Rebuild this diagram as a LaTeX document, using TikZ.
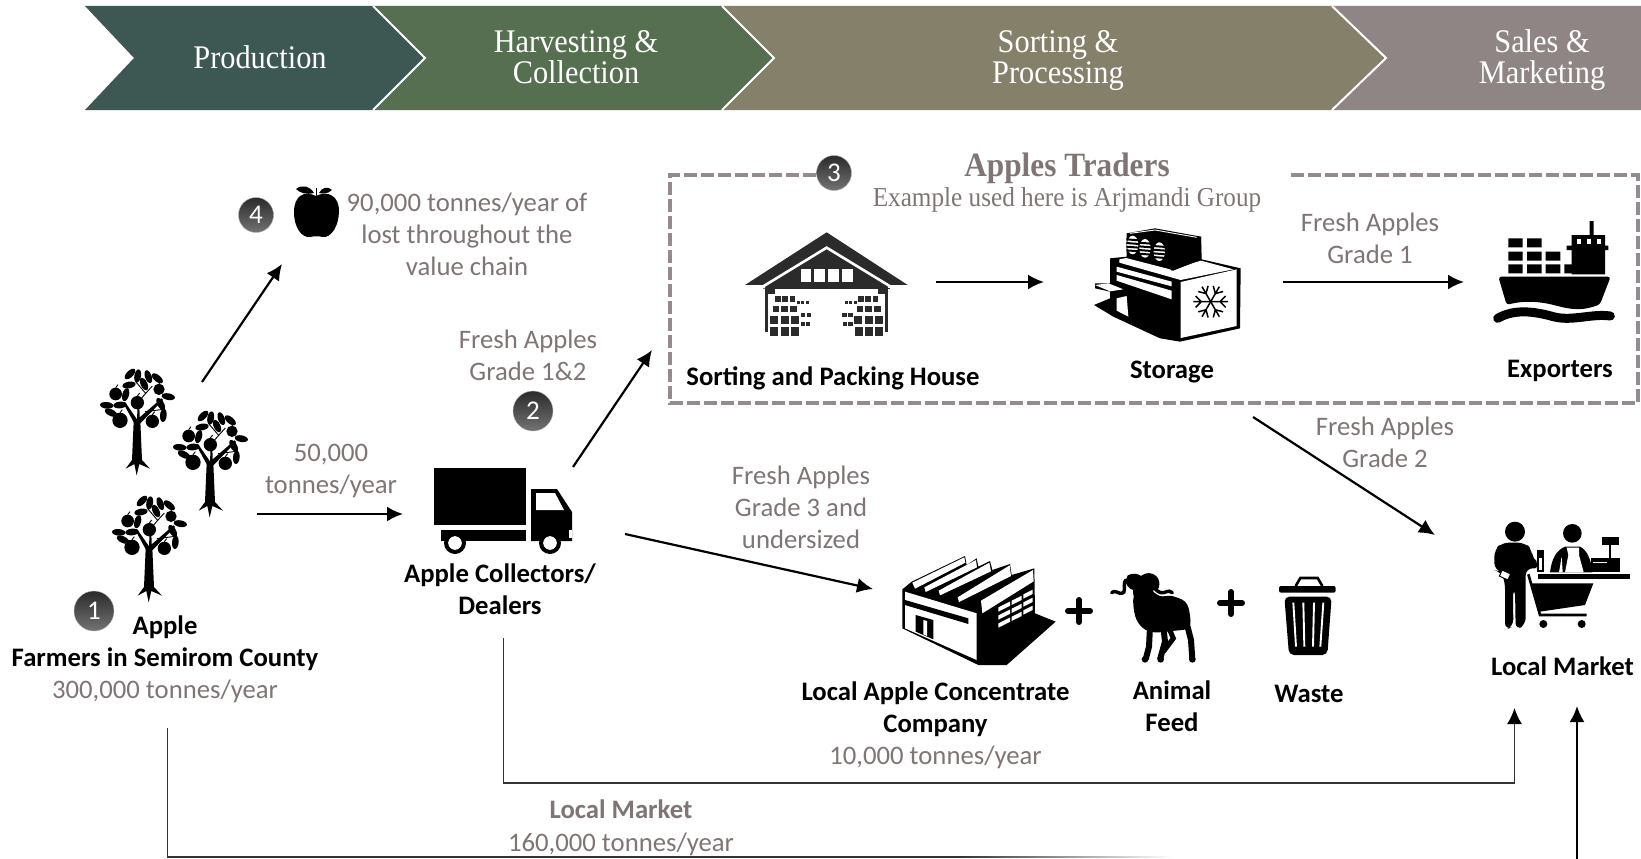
\documentclass[tikz,border=0pt]{standalone}
\usepackage{fontspec}
\usetikzlibrary{arrows.meta}
\setmainfont{Carlito}
\newfontfamily\hdrfont[FakeStretch=0.92]{Liberation Serif}
\definecolor{cProd}{HTML}{3D5853}
\definecolor{cHarv}{HTML}{566F50}
\definecolor{cSort}{HTML}{848069}
\definecolor{cSale}{HTML}{8F8585}
\definecolor{cTxt}{HTML}{7F7574}
\definecolor{cDash}{HTML}{968B8B}
\definecolor{cDark}{HTML}{2B2B2B}
\tikzset{
 hdr/.style={text=white,align=center,font=\hdrfont\fontsize{33}{31}\selectfont},
 graytxt/.style={text=cTxt,align=center,font=\fontsize{26.7}{32}\selectfont},
 graybold/.style={text=cTxt,align=center,font=\bfseries\fontsize{26.7}{32}\selectfont},
 blk/.style={text=black,align=center,font=\bfseries\fontsize{26.7}{32}\selectfont},
 serifgray/.style={text=cTxt,align=center,font=\hdrfont\fontsize{27.4}{30}\selectfont},
 numdot/.style={circle,minimum size=#1,inner sep=0pt,top color=cDark,bottom color=black!55,draw=black!30,line width=.4pt,text=white,font=\fontsize{27}{27}\selectfont},
 flow/.style={line width=2.2pt,black,-{Latex[length=16pt,width=15pt]}},
 thinflow/.style={line width=1.6pt,black!80,-{Latex[length=16pt,width=15pt,black]}},
 icon/.style={x=.33333pt,y=-.33333pt},
 sep/.style={white,line width=2pt}
}
\newcommand\IconLeaf[3]{\fill[shift={(#1,#2)},rotate=#3] (0,0) ellipse (20 and 10);}
\newcommand\IconFruit[3]{\fill (#1,#2) circle (#3); \draw[line width=.9pt] (#1,#2-#3) -- ++(7,-9);}
\newcommand\IconTree[2]{\begin{scope}[shift={(#1,#2)},icon]
 \fill (116,185) -- (111,300) -- (92,326) -- (118,312) -- (125,346) -- (133,312) -- (165,326) -- (141,300) -- (136,185) -- cycle;
 \fill (118,190) -- (84,128) -- (90,126) -- (126,178) -- (128,135) -- (133,135) -- (134,172) -- (200,115) -- (204,120) -- (134,192) -- cycle;
 \draw[line width=.9pt] (128,128) -- (152,100) -- (122,65);
 \draw[line width=.9pt] (150,155) -- (205,148);
 \draw[line width=.9pt] (152,100) -- (172,78);
 \IconFruit{62}{102}{19}\IconFruit{127}{128}{20}\IconFruit{192}{88}{17}\IconFruit{75}{181}{23}\IconFruit{172}{184}{20}
 \IconLeaf{105}{42}{45}\IconLeaf{128}{48}{80}\IconLeaf{160}{50}{-70}\IconLeaf{187}{55}{-40}
 \IconLeaf{102}{75}{10}\IconLeaf{147}{72}{-65}\IconLeaf{92}{104}{75}\IconLeaf{35}{136}{-5}
 \IconLeaf{75}{135}{5}\IconLeaf{48}{158}{-25}\IconLeaf{220}{110}{-10}\IconLeaf{197}{132}{-60}\IconLeaf{205}{166}{85}
\end{scope}}
\newcommand\IconCrate[4]{\fill[cDark] (#1,#2) rectangle ++(#3,#4);}
\begin{document}
\begin{tikzpicture}[x=1pt,y=-1pt]
\useasboundingbox (0,0) rectangle (1641,859);
\fill[white] (0,0) rectangle (1641,859);
% chevrons
\fill[cSale] (1332,6) -- (1641,6) -- (1641,110) -- (1332,110) -- (1386,58) -- cycle;
\fill[cSort] (722,6) -- (1332,6) -- (1386,58) -- (1332,110) -- (722,110) -- (774,58) -- cycle;
\fill[cHarv] (373,6) -- (722,6) -- (774,58) -- (722,110) -- (373,110) -- (425,58) -- cycle;
\fill[cProd] (85,6) -- (373,6) -- (425,58) -- (373,110) -- (85,110) -- (134,58) -- cycle;
\draw[sep] (373,6) -- (425,58) -- (373,110);
\draw[sep] (722,6) -- (774,58) -- (722,110);
\draw[sep] (1332,6) -- (1386,58) -- (1332,110);
\node[hdr] (hProd) at (260,57) {Production};
\node[hdr] (hHarv) at (576,57) {Harvesting \&\\Collection};
\node[hdr] (hSort) at (1058,60.5) {Sorting \&\\Processing};
\node[hdr] (hSale) at (1542,60.5) {Sales \&\\Marketing};
% dashed box
\draw[cDash,line width=3.5pt,dash pattern=on 13pt off 4pt] (816,175) -- (670,175) -- (670,403) -- (1638,403) -- (1638,175) -- (1290,175);
\node[numdot=35pt] (n3) at (834,173) {3};
\node[numdot=35pt] (n4) at (256,215) {4};
\node[numdot=40pt] (n2) at (533,411) {2};
\node[numdot=40pt] (n1) at (94,611) {1};
\node[text=cTxt,font=\hdrfont\bfseries\fontsize{34}{36}\selectfont] (tTraders) at (1067,168) {Apples Traders};
\node[serifgray] (tExample) at (1067,199.5) {Example used here is Arjmandi Group};
% labels
\node[graytxt] (tLost) at (467,234.5) {90,000 tonnes/year of\\lost throughout the\\value chain};
\node[graytxt] (tG12) at (528,355.5) {Fresh Apples\\Grade 1\&2};
\node[graytxt] (t50) at (331,470.5) {50,000\\tonnes/year};
\node[blk] (tColl) at (500,589.5) {Apple Collectors/\\Dealers};
\node[graytxt] (tG3) at (801,507.5) {Fresh Apples\\Grade 3 and\\undersized};
\node[blk] (tFarm) at (165,643) {Apple\\Farmers in Semirom County};
\node[graytxt] (t300) at (165,691) {300,000 tonnes/year};
\node[blk] (tSort) at (833,378) {Sorting and Packing House};
\node[blk] (tStore) at (1172,372) {Storage};
\node[blk] (tExp) at (1560,371) {Exporters};
\node[graytxt] (tG1) at (1370,238) {Fresh Apples\\Grade 1};
\node[graytxt] (tG2) at (1385,442.5) {Fresh Apples\\Grade 2};
\node[blk] (tShop) at (1562.5,666.5) {Local Market};
\node[blk] (tConc) at (935.5,709) {Local Apple Concentrate\\Company};
\node[graytxt] (t10) at (935.5,757) {10,000 tonnes/year};
\node[blk] (tFeed) at (1172,706) {Animal\\Feed};
\node[blk] (tWaste) at (1309,693.5) {Waste};
\node[graybold] (tLM) at (621,809.5) {Local Market};
\node[graytxt] (t160) at (621,844) {160,000 tonnes/year};
% trees
\IconTree{95}{360}\IconTree{168}{402}\IconTree{107}{487}
% apple
\begin{scope}
 \fill (316,196) .. controls (304,190) and (294,196) .. (294,212) .. controls (294,228) and (302,238) .. (310,237) .. controls (314,236) and (319,236) .. (323,237) .. controls (331,238) and (339,226) .. (339,211) .. controls (339,196) and (328,190) .. (316,196) -- cycle;
 \fill (296,189) .. controls (302,184) and (310,186) .. (314,193) .. controls (306,195) and (300,193) .. (296,189) -- cycle;
 \fill (319,193) .. controls (322,187) and (328,186) .. (332,190) .. controls (328,194) and (323,194) .. (319,193) -- cycle;
 \draw[line width=1pt] (316,197) -- (316,188);
\end{scope}
% truck
\begin{scope}
 \fill (434,468) rectangle (526,525);
 \fill (441,530) rectangle (526,541);
 \fill (531,489) -- (557,489) -- (572,512) -- (572,541) -- (531,541) -- cycle;
 \fill[white] (536,493) -- (555,493) -- (564,510) -- (536,510) -- cycle;
 \fill[white] (569,530) rectangle (572,538);
 \foreach \wx in {455,550} {\fill (\wx,543) circle (11); \fill[white] (\wx,543) circle (7);\draw[line width=2pt] (\wx,543) circle (8);}
\end{scope}
% packing house
\begin{scope}[shift={(740,225)},icon]
 \fill[cDark] (15,180) -- (260,22) -- (503,180) -- cycle;
 \fill[cDark] (75,180) rectangle (105,322);
 \fill[cDark] (415,180) rectangle (445,322);
 \fill[cDark] (70,192) rectangle (450,180);
 \fill[white] (105,192) rectangle (415,330);
 \draw[white,line width=2.6pt] (68,185) -- (260,68) -- (452,185);
 \fill[white] (0,182) -- (15,180) -- (70,180) -- (75,181) -- (75,190) -- (0,190) -- cycle;
 \fill[white] (445,181) -- (520,181) -- (520,190) -- (445,190) -- cycle;
 \foreach \wx in {182,223,265,307} {\fill[white] (\wx,133) rectangle ++(31,39);}
 \foreach \mir/\base in {1/0,-1/520} {
  \begin{scope}[shift={(\base,0)},x=\mir*.33333pt]
   \fill[white] (84,208) rectangle (176,335);
   \foreach \a/\b/\c/\d in {105/213/17/19,127/213/17/19,149/213/17/19,98/242/20/20,124/242/20/20,150/242/20/20,90/272/24/26,122/272/24/26,154/272/24/26,90/307/24/26,122/307/24/26,152/307/24/26,170/228/9/9,184/228/9/9,197/228/9/9,182/265/13/12,200/265/13/12,182/290/13/12,198/290/13/12}
    {\IconCrate{\a}{\b}{\c}{\d}}
  \end{scope}}
\end{scope}
% storage
\begin{scope}[shift={(1090,220)},icon]
 \fill (60,115) -- (110,110) -- (110,40) -- (195,25) -- (333,50) -- (335,118) -- (452,145) -- (450,325) -- (270,365) -- (210,355) -- (70,290) -- (12,255) -- (60,235) -- (60,215) -- (15,205) -- (15,190) -- (60,190) -- cycle;
 \fill[white] (272,186) -- (440,148) -- (440,318) -- (272,354) -- cycle;
 \fill[white] (80,140) -- (245,185) -- (245,199) -- (80,155) -- cycle;
 \fill[white] (80,165) -- (245,212) -- (245,238) -- (80,182) -- cycle;
 \fill[white] (80,235) -- (110,228) -- (115,290) -- (80,272) -- cycle;
 \fill[white] (15,195) -- (55,190) -- (100,208) -- (60,214) -- cycle;
 \fill[white] (88,118) -- (108,114) -- (240,148) -- (250,152) -- (310,128) -- (333,122) -- (430,148) -- (272,180) -- (88,128) -- cycle;
 \fill (110,110) -- (232,135) -- (245,152) -- (333,120) -- (333,50) -- (235,68) -- cycle;
 \draw[white,line width=.9pt] (120,40) -- (195,30) -- (320,52);
 \foreach \fx/\fy in {128/75,165/85,208/95} {
  \fill[white] (\fx,\fy) ellipse (17 and 28);
  \foreach \dy in {-17,-6,5,16} \draw[line width=2pt] (\fx-19,\fy+\dy) -- (\fx+19,\fy+\dy+3);
 }
 \foreach \ang in {0,60,...,300} {
  \begin{scope}[shift={(362,245)},rotate=\ang]
   \draw[line width=1.5pt] (0,0) -- (52,0) (28,0) -- (45,17) (28,0) -- (45,-17);
  \end{scope}}
\end{scope}
% ship
\begin{scope}[shift={(1485,215)},icon]
 \fill (70,70) rectangle (113,97) (126,70) rectangle (170,97);
 \fill (70,110) rectangle (113,137) (126,110) rectangle (170,137) (182,110) rectangle (226,137);
 \fill (70,148) rectangle (113,175) (126,148) rectangle (170,175) (182,148) rectangle (226,175) (238,148) rectangle (282,175);
 \fill (260,60) rectangle (360,178) (245,92) rectangle (370,105) (314,18) rectangle (326,62);
 \foreach \wx in {275,305,335} {\fill[white] (\wx,73) rectangle ++(12,14);}
 \fill[rounded corners=3pt] (40,185) -- (377,185) -- (345,268) .. controls (300,285) and (270,285) .. (225,275) .. controls (170,260) and (120,255) .. (65,270) -- cycle;
 \draw[line width=9pt,line cap=round] (38,310) .. controls (90,280) and (150,290) .. (205,305) .. controls (260,320) and (320,295) .. (376,303);
\end{scope}
% factory
\begin{scope}[shift={(895,550)},icon]
 \fill (22,118) -- (50,95) -- (210,18) -- (215,45) -- (245,25) -- (250,50) -- (285,33) -- (292,60) -- (345,42) -- (350,75) -- (418,55) -- (420,190) -- (482,215) -- (335,345) -- (250,345) -- (22,235) -- cycle;
 \fill[white] (52,98) -- (208,22) -- (211,38) -- (60,116) -- cycle;
 \fill[white] (88,112) -- (243,30) -- (246,52) -- (92,126) -- cycle;
 \fill[white] (131,122) -- (283,38) -- (288,64) -- (135,136) -- cycle;
 \fill[white] (188,142) -- (344,46) -- (348,78) -- (192,156) -- cycle;
 \fill[white] (258,152) -- (414,60) -- (416,94) -- (262,190) -- cycle;
 \fill[white] (30,125) -- (245,190) -- (245,330) -- (30,235) -- cycle;
 \fill (30,150) -- (220,205) -- (220,222) -- (30,165) -- cycle;
 \fill (62,195) -- (115,210) -- (115,268) -- (62,245) -- cycle;
 \fill[white] (85,210) -- (96,213) -- (96,258) -- (85,253) -- cycle;
 \foreach \r in {0,1,2} {
  \foreach \cx/\cy/\cw in {310/172/35,350/152/30,385/133/28} {
   \fill[white] (\cx,\cy+\r*24) -- ++(\cw,-.5*\cw) -- ++(0,13) -- ++(-\cw,.5*\cw) -- cycle;
  }}
\end{scope}
% plus signs
\draw[line width=6pt,line cap=round] (1068,611) -- (1090,611) (1079,600) -- (1079,622);
\draw[line width=6pt,line cap=round] (1220,603) -- (1242,603) (1231,592) -- (1231,614);
% ram
\begin{scope}[shift={(1105,570)},icon]
 \fill plot[smooth cycle,tension=.6] coordinates {(85,85) (105,72) (130,58) (165,78) (200,78) (240,95) (254,130) (252,172) (210,182) (135,185) (95,150)};
 \fill plot[smooth cycle,tension=.6] coordinates {(92,30) (130,25) (145,60) (135,90) (105,100) (85,75)};
 \draw[line width=8pt,line cap=round] (85,48) .. controls (58,28) and (85,14) .. (105,30);
 \draw[line width=8pt,line cap=round] (112,32) .. controls (125,12) and (158,22) .. (150,50);
 \draw[line width=3.4pt,line cap=round] (62,30) .. controls (50,50) and (70,70) .. (45,70) .. controls (35,68) and (30,60) .. (20,68);
 \draw[line width=3.4pt,line cap=round] (150,50) .. controls (155,72) and (175,70) .. (185,65) .. controls (190,62) and (195,63) .. (202,68);
 \draw[line width=6pt] (135,170) -- (132,230) -- (122,268);
 \draw[line width=6pt] (175,170) -- (180,215) -- (165,268);
 \draw[line width=5pt] (190,170) -- (205,205) -- (175,245);
 \draw[line width=6pt] (245,160) -- (258,210) -- (262,268);
 \foreach \lx in {120,167,262} \fill (\lx,268) circle (10);
\end{scope}
% bin
\begin{scope}[shift={(1105,570)},icon]
 \fill[rounded corners=2pt] (522,48) rectangle (692,68);
 \draw[line width=2.6pt] (572,48) -- (586,24) -- (638,24) -- (652,48);
 \fill[rounded corners=5pt] (538,80) -- (680,80) -- (667,255) -- (552,255) -- cycle;
 \foreach \xa/\xb in {565/573,595/598,627/624,655/646} \draw[white,line width=1.9pt] (\xa,98) -- (\xb,230);
\end{scope}
% shop
\begin{scope}[shift={(1485,515)},icon]
 \fill (90,50) circle (30);
 \fill[rounded corners=7pt] (28,165) -- (28,105) -- (50,83) -- (120,83) -- (142,105) -- (142,135) -- (165,143) -- (165,160) -- (135,160) -- (122,160) -- (122,330) -- (92,345) -- (90,220) -- (84,220) -- (85,335) -- (60,345) -- (60,200) -- (48,170) -- cycle;
 \fill (157,105) rectangle (176,170);
 \fill[white] (161,128) rectangle (172,166);
 \fill[white,rotate around={-25:(60,180)}] (46,170) rectangle (74,190);
 \draw[line width=1pt,rotate around={-25:(60,180)}] (46,170) rectangle (74,190);
 \fill (262,55) circle (28);
 \fill (195,172) .. controls (200,130) and (215,105) .. (240,95) -- (285,95) .. controls (305,105) and (318,130) .. (322,172) -- cycle;
 \fill[white] (245,98) -- (282,98) -- (282,120) -- (296,172) -- (240,172) -- (250,120) -- cycle;
 \fill[white] (230,125) -- (233,172) -- (222,172) -- cycle;
 \fill (350,65) rectangle (402,90);
 \fill (372,90) rectangle (379,130);
 \fill (318,130) rectangle (404,172);
 \fill[white] (325,140) rectangle (365,143);
 \fill (160,178) rectangle (435,192);
 \fill (140,205) -- (325,205) -- (300,270) -- (165,290) -- cycle;
 \draw[line width=2.6pt] (130,178) -- (165,300) -- (305,300);
 \fill (175,327) circle (12) (290,327) circle (12);
\end{scope}
% connector end points
\coordinate (aFarmUp) at (202,382); \coordinate (aLost) at (282,264);
\coordinate (aFarmR) at (257,514); \coordinate (aTruck) at (403,514);
\coordinate (aTruckUp) at (573,467); \coordinate (aTrader) at (652,350);
\coordinate (aTruckR) at (625,534); \coordinate (aConc) at (873,589);
\coordinate (aHouse) at (936,282); \coordinate (aStore) at (1044,282);
\coordinate (aStoreR) at (1283,282); \coordinate (aShip) at (1464,282);
\coordinate (aBoxDown) at (1253,417); \coordinate (aShopIn) at (1435,535);
\coordinate (aDealDown) at (503.5,638); \coordinate (aDealC1) at (503.5,783); \coordinate (aDealC2) at (1514.5,783); \coordinate (aShopA) at (1514.5,708);
\coordinate (aFarmDown) at (167.5,728); \coordinate (aFarmC) at (167.5,857); \coordinate (aFarmE) at (960,857);
\coordinate (aLowB) at (1577,859); \coordinate (aShopB) at (1577,706);
\draw[flow] (aFarmUp) -- (aLost);
\draw[flow] (aFarmR) -- (aTruck);
\draw[flow] (aTruckUp) -- (aTrader);
\draw[flow] (aTruckR) -- (aConc);
\draw[flow] (aHouse) -- (aStore);
\draw[flow] (aStoreR) -- (aShip);
\draw[flow] (aBoxDown) -- (aShopIn);
\draw[thinflow] (aDealDown) -- (aDealC1) -- (aDealC2) -- (aShopA);
\draw[line width=1.5pt,black!80] (aFarmDown) -- (aFarmC) -- (aFarmE);
\shade[left color=black!80,right color=white] (960,856.2) rectangle (1172,857.8);
\draw[flow] (aLowB) -- (aShopB);
\end{tikzpicture}
\end{document}
